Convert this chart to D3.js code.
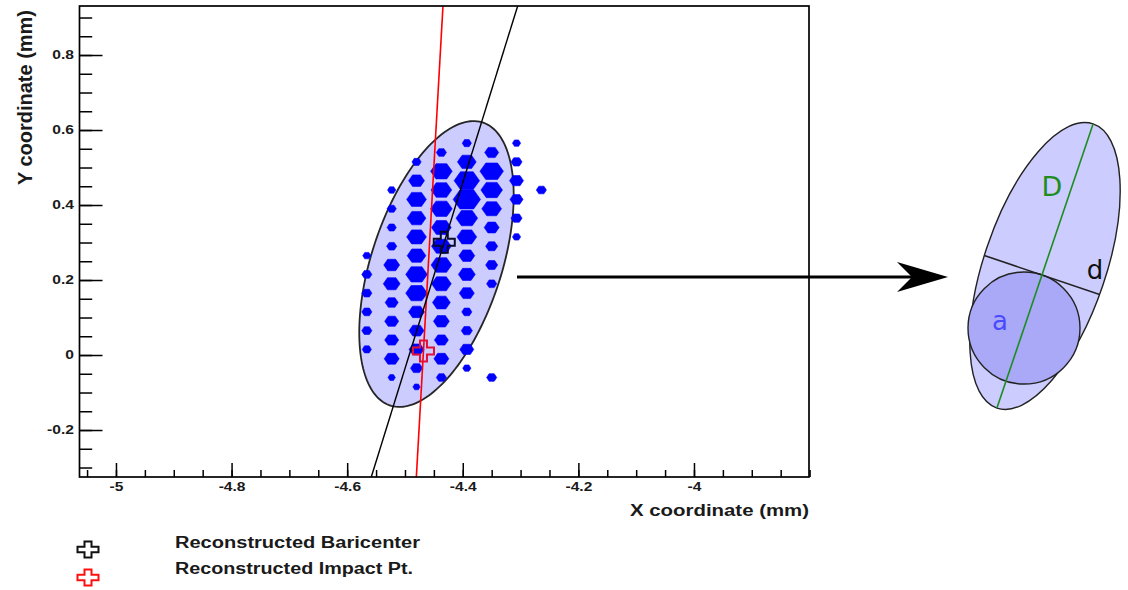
<!DOCTYPE html>
<html><head><meta charset="utf-8">
<script src="https://cdn.jsdelivr.net/npm/d3@7"></script>
<style>
body{margin:0;background:#fff}
svg{display:block}
text{font-family:"Liberation Sans",Arial,Helvetica,sans-serif}
</style>
</head><body>
<svg id="c" width="1128" height="590"></svg>
<script>
// ---------------- data ----------------
const xDomain = [-5.0631, -3.8010];
const yDomain = [-0.3253, 0.9307];
const xMajorTicks = [-5, -4.8, -4.6, -4.4, -4.2, -4];
const xTickLabels = ["-5", "-4.8", "-4.6", "-4.4", "-4.2", "-4"];
const yMajorTicks = [-0.2, 0, 0.2, 0.4, 0.6, 0.8];
const yTickLabels = ["-0.2", "0", "0.2", "0.4", "0.6", "0.8"];
const xMinorTicks = d3.range(-101, -75).map(i => i * 0.05);
const yMinorTicks = d3.range(-6, 19).map(i => i * 0.05);
const xTitle = "X coordinate (mm)";
const yTitle = "Y coordinate (mm)";

// hexagonal pixel hits: centre x, centre y (mm), pulse height (a.u.)
const hitX = [
  -4.566,-4.566,-4.566,-4.566,-4.566,-4.566,
  -4.523,-4.523,-4.523,-4.523,-4.523,-4.523,-4.523,-4.523,-4.523,-4.523,-4.523,
  -4.480,-4.480,-4.480,-4.480,-4.480,-4.480,-4.480,-4.480,-4.480,-4.480,-4.480,-4.480,-4.480,
  -4.437,-4.437,-4.437,-4.437,-4.437,-4.437,-4.437,-4.437,-4.437,-4.437,-4.437,-4.437,-4.437,
  -4.393,-4.393,-4.393,-4.393,-4.393,-4.393,-4.393,-4.393,-4.393,-4.393,-4.393,-4.393,-4.393,
  -4.350,-4.350,-4.350,-4.350,-4.350,-4.350,-4.350,-4.350,-4.350,
  -4.307,-4.307,-4.307,-4.307,-4.307,-4.307,
  -4.264
];
const hitY = [
  0.265,0.215,0.165,0.115,0.065,0.015,
  0.44,0.39,0.34,0.29,0.24,0.19,0.14,0.09,0.04,-0.01,-0.06,
  0.515,0.465,0.415,0.365,0.315,0.265,0.215,0.165,0.115,0.065,0.015,-0.035,-0.085,
  0.54,0.49,0.44,0.39,0.34,0.29,0.24,0.19,0.14,0.09,0.04,-0.01,-0.06,
  0.565,0.515,0.465,0.415,0.365,0.315,0.265,0.215,0.165,0.115,0.065,0.015,-0.035,
  0.54,0.49,0.44,0.39,0.34,0.29,0.24,0.19,-0.06,
  0.565,0.515,0.465,0.415,0.365,0.315,
  0.44
];
const hitCharge = [
  6,8,8,8,8,7,
  6,7,7,8,14,15,11,12,12,13,5,
  7,14,18,17,18,17,20,20,14,13,13,10,5,
  8,20,19,20,18,18,19,18,16,14,12,13,8,
  7,17,24,26,20,18,14,15,13,8,9,12,6,
  12,22,20,18,13,10,10,8,8,
  6,9,12,11,9,6,
  8
];

const baricenter = [-4.432, 0.301];
const baricenterAxisAngleDeg = 78.6;   // principal axis direction (data space)
const impactPoint = [-4.468, 0.011];
const impactAxisAngleDeg = 87.9;
const ellipseCenter = [-4.4455, 0.2427];
const ellipseSemiMajor = 0.387;
const ellipseSemiMinor = 0.1154;
const ellipseAngleDeg = 79.5;
const legendLabels = ["Reconstructed Baricenter", "Reconstructed Impact Pt."];
const legendColors = ["#111111", "#ff1010"];

// ---------------- drawing ----------------
const svg = d3.select("#c");
const plot = {l: 79.5, r: 809, t: 6, b: 477};
const x = d3.scaleLinear().domain(xDomain).range([plot.l, plot.r]);
const y = d3.scaleLinear().domain(yDomain).range([plot.b, plot.t]);
const FONT = '"Liberation Sans",Arial,Helvetica,sans-serif';

svg.append("defs").append("clipPath").attr("id", "clip")
  .append("rect").attr("x", plot.l).attr("y", plot.t)
  .attr("width", plot.r - plot.l).attr("height", plot.b - plot.t);

const g = svg.append("g").attr("clip-path", "url(#clip)");

// fitted ellipse
const phi = ellipseAngleDeg * Math.PI / 180;
const ellPts = d3.range(0, 360, 2).map(deg => {
  const t = deg * Math.PI / 180;
  return [
    ellipseCenter[0] + ellipseSemiMajor * Math.cos(t) * Math.cos(phi) - ellipseSemiMinor * Math.sin(t) * Math.sin(phi),
    ellipseCenter[1] + ellipseSemiMajor * Math.cos(t) * Math.sin(phi) + ellipseSemiMinor * Math.sin(t) * Math.cos(phi)
  ];
});
g.append("path")
  .attr("d", d3.line().x(d => x(d[0])).y(d => y(d[1])).curve(d3.curveLinearClosed)(ellPts))
  .attr("fill", "#ccccff").attr("stroke", "#262626").attr("stroke-width", 1.8);

// hits
const cellW = d3.scaleLinear().domain([0, 26]).range([2.5, 2.5 + x(-5 + 0.043) - x(-5)]);
const hits = hitX.map((hx, i) => ({x: hx, y: hitY[i], q: hitCharge[i]}));
g.selectAll("path.hit").data(hits).enter().append("path")
  .attr("class", "hit")
  .attr("d", d => {
    const cx = x(d.x), cy = y(d.y), w = cellW(d.q), h = w * 0.66 + 1;
    return `M${cx - w/2},${cy} L${cx - w/4},${cy - h/2} L${cx + w/4},${cy - h/2} L${cx + w/2},${cy} L${cx + w/4},${cy + h/2} L${cx - w/4},${cy + h/2} Z`;
  })
  .attr("fill", "#0000ff").attr("stroke", "#0000ff").attr("stroke-width", 0.6);

// direction lines
function lineThrough(p, angDeg) {
  const cot = 1 / Math.tan(angDeg * Math.PI / 180);
  return yDomain.map(yy => [p[0] + (yy - p[1]) * cot, yy]);
}
const ln = d3.line().x(d => x(d[0])).y(d => y(d[1]));
g.append("path").attr("d", ln(lineThrough(impactPoint, impactAxisAngleDeg)))
  .attr("stroke", "#ff0000").attr("stroke-width", 1.6).attr("fill", "none");
g.append("path").attr("d", ln(lineThrough(baricenter, baricenterAxisAngleDeg)))
  .attr("stroke", "#000").attr("stroke-width", 1.4).attr("fill", "none");

// crosses
function crossPath(cx, cy, w, h) {
  const tw = w / 3, th = h / 3;
  return `M${cx - tw/2},${cy - h/2} H${cx + tw/2} V${cy - th/2} H${cx + w/2} V${cy + th/2} H${cx + tw/2} V${cy + h/2} H${cx - tw/2} V${cy + th/2} H${cx - w/2} V${cy - th/2} H${cx - tw/2} Z`;
}
[[baricenter, "#0a0a2a"], [impactPoint, "#e0103a"]].forEach(([p, col]) => {
  svg.append("path").attr("d", crossPath(x(p[0]), y(p[1]), 21, 21))
    .attr("fill", "none").attr("stroke", col).attr("stroke-width", 2);
});

// axes
const xMinor = d3.axisBottom(x).tickValues(xMinorTicks).tickFormat("").tickSizeInner(-7).tickSizeOuter(0);
const xMajor = d3.axisBottom(x).tickValues(xMajorTicks).tickFormat((d, i) => xTickLabels[i]).tickSizeInner(-14).tickSizeOuter(0).tickPadding(5.7);
const yMinor = d3.axisLeft(y).tickValues(yMinorTicks).tickFormat("").tickSizeInner(-12.7).tickSizeOuter(0);
const yMajor = d3.axisLeft(y).tickValues(yMajorTicks).tickFormat((d, i) => yTickLabels[i]).tickSizeInner(-23).tickSizeOuter(0).tickPadding(4.3);

function styleAxis(sel) {
  sel.select(".domain").remove();
  sel.selectAll("line").attr("stroke", "#000").attr("stroke-width", 1.5);
  sel.selectAll("text").attr("fill", "#1a1a1a").style("font-family", FONT)
    .style("font-size", "12px").style("font-weight", "bold")
    .attr("transform", "scale(1.3,1)");
}
svg.append("g").attr("transform", `translate(0,${plot.b})`).call(xMinor).call(styleAxis);
svg.append("g").attr("transform", `translate(0,${plot.b})`).call(xMajor).call(styleAxis);
svg.append("g").attr("transform", `translate(${plot.l},0)`).call(yMinor).call(styleAxis);
svg.append("g").attr("transform", `translate(${plot.l},0)`).call(yMajor).call(styleAxis);

// frame
svg.append("rect").attr("x", plot.l).attr("y", plot.t)
  .attr("width", plot.r - plot.l).attr("height", plot.b - plot.t)
  .attr("fill", "none").attr("stroke", "#000").attr("stroke-width", 1.7);

// axis titles
svg.append("text").text(xTitle).attr("x", plot.r).attr("y", 516)
  .attr("text-anchor", "end").attr("textLength", 179).attr("lengthAdjust", "spacingAndGlyphs")
  .style("font-size", "16px").style("font-weight", "bold").attr("fill", "#1a1a1a");
svg.append("text").text(yTitle)
  .attr("transform", "translate(32,10) rotate(-90)")
  .attr("text-anchor", "end").attr("textLength", 175).attr("lengthAdjust", "spacingAndGlyphs")
  .style("font-size", "21px").style("font-weight", "bold").attr("fill", "#1a1a1a");

// legend
const legendY = [549.5, 577.5];
const legendTextY = [548, 574];
const legendTextLen = [245, 238];
legendLabels.forEach((lab, i) => {
  svg.append("path").attr("d", crossPath(88, legendY[i], 21, 16))
    .attr("fill", "none").attr("stroke", legendColors[i]).attr("stroke-width", 2);
  svg.append("text").text(lab).attr("x", 175).attr("y", legendTextY[i])
    .attr("textLength", legendTextLen[i]).attr("lengthAdjust", "spacingAndGlyphs")
    .style("font-size", "16px").style("font-weight", "bold").attr("fill", "#1a1a1a");
});

// arrow
svg.append("line").attr("x1", 517).attr("y1", 277).attr("x2", 915).attr("y2", 277)
  .attr("stroke", "#000").attr("stroke-width", 2.8);
svg.append("path").attr("d", "M948,277 L897,262 L912,277 L897,292 Z").attr("fill", "#000");

// schematic ellipse with inscribed circle
const sc = {cx: 1045, cy: 266, a: 150, b: 61, rot: 18.7, rc: 56};
const rr = sc.rot * Math.PI / 180;
const ax = [Math.sin(rr), -Math.cos(rr)];      // major axis unit (upwards)
const pr = [Math.cos(rr), Math.sin(rr)];        // minor axis unit
svg.append("ellipse").attr("cx", sc.cx).attr("cy", sc.cy).attr("rx", sc.b).attr("ry", sc.a)
  .attr("transform", `rotate(${sc.rot},${sc.cx},${sc.cy})`)
  .attr("fill", "#ccccff").attr("stroke", "#222").attr("stroke-width", 1.4);
const tc = -(sc.a - 84.5);  // circle centre along axis
const ccx = sc.cx + ax[0] * tc, ccy = sc.cy + ax[1] * tc;
svg.append("circle").attr("cx", ccx).attr("cy", ccy).attr("r", sc.rc)
  .attr("fill", "#a9a9f7").attr("stroke", "#222").attr("stroke-width", 1.4);
// chord d
const tcd = tc + sc.rc;
const halfd = sc.b * Math.sqrt(1 - (tcd / sc.a) ** 2);
const pdx = sc.cx + ax[0] * tcd, pdy = sc.cy + ax[1] * tcd;
svg.append("line").attr("x1", pdx - pr[0] * halfd).attr("y1", pdy - pr[1] * halfd)
  .attr("x2", pdx + pr[0] * halfd).attr("y2", pdy + pr[1] * halfd)
  .attr("stroke", "#222").attr("stroke-width", 1.5);
// major axis D
svg.append("line").attr("x1", sc.cx + ax[0] * sc.a).attr("y1", sc.cy + ax[1] * sc.a)
  .attr("x2", sc.cx - ax[0] * sc.a).attr("y2", sc.cy - ax[1] * sc.a)
  .attr("stroke", "#1e8c1e").attr("stroke-width", 1.6);
const lblFont = '"DejaVu Sans",Verdana,sans-serif';
svg.append("text").text("D").attr("x", 1052).attr("y", 196).attr("text-anchor", "middle")
  .style("font-family", lblFont).style("font-size", "27px").attr("fill", "#1e8c1e");
svg.append("text").text("d").attr("x", 1095).attr("y", 279).attr("text-anchor", "middle")
  .style("font-family", lblFont).style("font-size", "26px").attr("fill", "#111");
svg.append("text").text("a").attr("x", 1000).attr("y", 330).attr("text-anchor", "middle")
  .style("font-family", lblFont).style("font-size", "26px").attr("fill", "#4a4aff");
</script>
</body></html>
